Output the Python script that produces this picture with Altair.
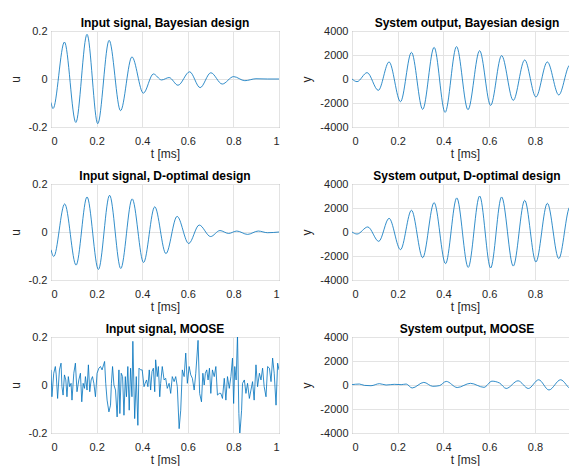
import altair as alt
import pandas as pd

# ---- data ----
bayes_in_t = [0.000, 0.009, 0.059, 0.109, 0.158, 0.205, 0.255, 0.305, 0.355, 0.405, 0.449,
              0.485, 0.518, 0.557, 0.608, 0.654, 0.701, 0.751, 0.801, 0.850, 0.899, 0.950, 1.000]
bayes_in_u = [-0.098, -0.123, 0.154, -0.181, 0.186, -0.186, 0.161, -0.132, 0.092, -0.059, 0.021,
              -0.004, 0.006, -0.026, 0.030, -0.036, 0.026, -0.021, 0.010, -0.007, 0.001, 0.000, 0.000]

bayes_out_t = [0.000, 0.022, 0.066, 0.115, 0.162, 0.212, 0.260, 0.309, 0.359, 0.407, 0.457,
               0.507, 0.558, 0.606, 0.654, 0.705, 0.755, 0.804, 0.854, 0.904, 0.953, 0.984]
bayes_out_y = [0, -220, 530, -945, 1420, -1890, 2220, -2530, 2640, -2780, 2700,
               -2560, 2360, -2200, 1950, -1780, 1585, -1500, 1420, -1330, 1170, -330]

dopt_in_t = [0.000, 0.012, 0.060, 0.110, 0.158, 0.208, 0.257, 0.306, 0.356, 0.406, 0.455, 0.504,
             0.553, 0.604, 0.650, 0.700, 0.741, 0.779, 0.815, 0.862, 0.909, 0.950, 1.000]
dopt_in_u = [-0.074, -0.102, 0.117, -0.138, 0.146, -0.156, 0.153, -0.152, 0.138, -0.127, 0.105, -0.090,
             0.065, -0.048, 0.029, -0.019, 0.006, -0.006, 0.004, -0.010, 0.004, -0.003, 0.000]

dopt_out_t = [0.000, 0.022, 0.069, 0.117, 0.162, 0.212, 0.260, 0.309, 0.359, 0.409, 0.458,
              0.508, 0.558, 0.606, 0.654, 0.705, 0.755, 0.804, 0.854, 0.904, 0.953, 0.984]
dopt_out_y = [0, -170, 420, -780, 1140, -1470, 1810, -2140, 2450, -2640, 2840,
              -2950, 3000, -3000, 2920, -2840, 2640, -2500, 2390, -2220, 2090, -700]

moose_in_t = [0.000, 0.004, 0.012, 0.019, 0.023, 0.029, 0.037, 0.044, 0.048, 0.053, 0.059, 0.065,
              0.070, 0.076, 0.082, 0.088, 0.092, 0.100, 0.107, 0.114, 0.122, 0.129, 0.135, 0.141,
              0.147, 0.151, 0.158, 0.164, 0.170, 0.176, 0.182, 0.188, 0.195, 0.202, 0.210, 0.217,
              0.224, 0.235, 0.240, 0.246, 0.254, 0.261, 0.265, 0.270, 0.276, 0.283, 0.290, 0.298,
              0.302, 0.308, 0.314, 0.320, 0.326, 0.331, 0.337, 0.343, 0.349, 0.355, 0.359, 0.367,
              0.374, 0.381, 0.386, 0.393, 0.400, 0.408, 0.413, 0.419, 0.425, 0.431, 0.437, 0.443,
              0.449, 0.455, 0.459, 0.466, 0.471, 0.477, 0.481, 0.488, 0.496, 0.503, 0.510, 0.518,
              0.525, 0.532, 0.540, 0.547, 0.554, 0.562, 0.569, 0.576, 0.584, 0.591, 0.598, 0.606,
              0.613, 0.620, 0.628, 0.635, 0.645, 0.652, 0.660, 0.666, 0.672, 0.677, 0.683, 0.689,
              0.695, 0.701, 0.708, 0.716, 0.723, 0.730, 0.738, 0.745, 0.752, 0.760, 0.767, 0.774,
              0.782, 0.789, 0.796, 0.801, 0.806, 0.812, 0.818, 0.824, 0.828, 0.836, 0.840, 0.848,
              0.855, 0.862, 0.870, 0.877, 0.884, 0.891, 0.899, 0.906, 0.914, 0.921, 0.928, 0.935,
              0.943, 0.950, 0.958, 0.965, 0.972, 0.979, 0.987, 0.994, 1.000]
moose_in_u = [0.063, -0.049, 0.049, 0.077, 0.042, -0.056, 0.063, 0.091, -0.007, -0.042, 0.042, 0.021,
              -0.049, 0.035, -0.007, 0.007, -0.063, 0.049, 0.091, -0.028, 0.021, 0.049, -0.070, 0.007,
              -0.014, 0.035, -0.021, 0.084, -0.028, 0.021, 0.035, 0.007, -0.049, 0.049, 0.070, 0.077,
              0.063, 0.098, 0.007, -0.063, -0.112, -0.084, 0.007, 0.077, 0.000, -0.021, -0.133, 0.063,
              -0.119, 0.049, 0.035, -0.126, 0.035, -0.049, 0.077, -0.105, 0.070, -0.049, 0.182, -0.140,
              0.035, -0.168, 0.070, 0.063, 0.063, -0.007, 0.007, 0.021, -0.007, 0.063, -0.021, 0.056,
              0.070, -0.028, 0.105, 0.035, 0.077, -0.049, 0.007, 0.077, 0.021, 0.028, -0.014, 0.007,
              -0.035, 0.035, 0.014, 0.035, -0.007, -0.182, -0.105, 0.063, 0.035, 0.133, 0.007, 0.077,
              0.042, 0.028, -0.021, 0.049, 0.186, -0.035, -0.070, 0.049, 0.000, 0.049, 0.063, 0.021,
              0.070, -0.035, 0.063, 0.035, 0.077, -0.042, -0.035, -0.035, -0.056, 0.028, -0.063, 0.035,
              -0.014, 0.035, 0.112, -0.077, 0.077, 0.021, 0.210, -0.119, -0.210, -0.105, 0.007, 0.021,
              -0.035, 0.007, -0.056, -0.021, 0.014, -0.063, 0.084, -0.007, 0.049, 0.021, 0.070, -0.007,
              -0.049, 0.077, 0.070, 0.014, 0.112, 0.049, -0.084, 0.091, 0.063]

moose_out_t = [0.000, 0.032, 0.054, 0.083, 0.120, 0.149, 0.185, 0.215, 0.237, 0.263, 0.314, 0.353,
               0.382, 0.412, 0.460, 0.518, 0.577, 0.612, 0.645, 0.674, 0.726, 0.771, 0.816, 0.861,
               0.912, 0.959, 0.984]
moose_out_y = [30, 80, -30, -60, 110, 0, 55, 30, 80, -250, 220, -110,
               -55, 300, -210, 140, -195, 320, 165, -290, 350, -290, 435, -415,
               435, -335, -165]

titles = ["Input signal, Bayesian design", "System output, Bayesian design",
          "Input signal, D-optimal design", "System output, D-optimal design",
          "Input signal, MOOSE", "System output, MOOSE"]
u_ticks = [-0.2, 0, 0.2]
y_ticks = [-4000, -2000, 0, 2000, 4000]
x_ticks_left = [0, 0.2, 0.4, 0.6, 0.8, 1]
x_ticks_right = [0, 0.2, 0.4, 0.6, 0.8]

BLUE = "#0072BD"
FONT = "Liberation Sans"


def panel(t, v, title, ylab, ydom, yticks, xdom, xticks, width, interp, title_dx=0):
    df = pd.DataFrame({"t": t, "v": v})
    return alt.Chart(df).mark_line(
        color=BLUE, strokeWidth=1, opacity=0.8, interpolate=interp, clip=True
    ).encode(
        x=alt.X("t:Q", scale=alt.Scale(domain=xdom, nice=False, zero=False),
                axis=alt.Axis(values=xticks, title="t [ms]", labelExpr="'' + datum.value")),
        y=alt.Y("v:Q", scale=alt.Scale(domain=ydom, nice=False, zero=False),
                axis=alt.Axis(values=yticks, title=ylab, labelExpr="'' + datum.value")),
    ).properties(width=width, height=96, title=alt.Title(title, dx=title_dx))


LW, RW = 228, 226
RDOM = [0, 0.988]
HS = 20

r1 = alt.hconcat(
    panel(bayes_in_t, bayes_in_u, titles[0], "u", [-0.2, 0.2], u_ticks, [0, 1], x_ticks_left, LW, "monotone"),
    panel(bayes_out_t, bayes_out_y, titles[1], "y", [-4000, 4000], y_ticks, RDOM, x_ticks_right, RW, "monotone", 2),
    spacing=HS,
)
r2 = alt.hconcat(
    panel(dopt_in_t, dopt_in_u, titles[2], "u", [-0.2, 0.2], u_ticks, [0, 1], x_ticks_left, LW, "monotone"),
    panel(dopt_out_t, dopt_out_y, titles[3], "y", [-4000, 4000], y_ticks, RDOM, x_ticks_right, RW, "monotone", 2),
    spacing=HS,
)
r3 = alt.hconcat(
    panel(moose_in_t, moose_in_u, titles[4], "u", [-0.2, 0.2], u_ticks, [0, 1], x_ticks_left, LW, "linear"),
    panel(moose_out_t, moose_out_y, titles[5], "y", [-4000, 4000], y_ticks, RDOM, x_ticks_right, RW, "monotone", 2),
    spacing=HS,
)

chart = alt.vconcat(r1, r2, r3, spacing=9).properties(
    padding={"left": 0, "top": 8, "right": -10, "bottom": 0}
).configure_axis(
    labelFont=FONT, labelFontSize=11, labelColor="#262626",
    titleFont=FONT, titleFontSize=12, titleFontWeight="normal", titleColor="#262626",
    grid=True, gridColor="#e3e3e3", gridWidth=1, ticks=False, domain=False, labelPadding=4,
).configure_axisX(labelPadding=8, titlePadding=2).configure_axisY(titlePadding=6).configure_view(
    stroke="#808080", strokeWidth=1
).configure_title(
    font=FONT, fontSize=12, fontWeight="bold", color="black", anchor="middle", frame="group", offset=-5
)

chart.save("out.html", embed_options={"renderer": "svg", "actions": False})
